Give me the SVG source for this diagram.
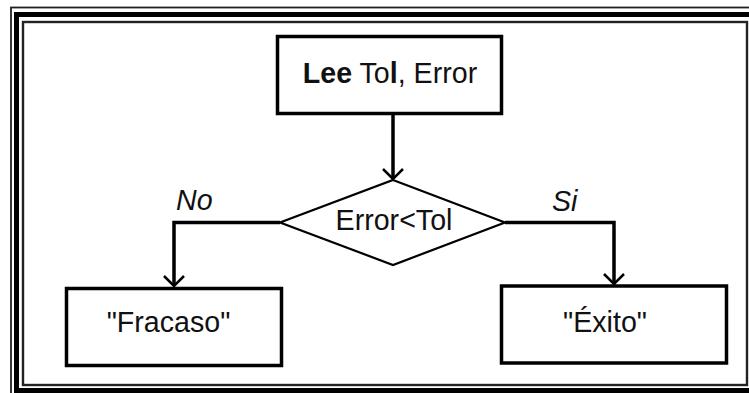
<svg xmlns="http://www.w3.org/2000/svg" width="749" height="393" viewBox="0 0 749 393">
  <style>
    text { font-family: "Liberation Sans", Arial, sans-serif; font-size: 28.6px; fill: #111; }
    .b { font-weight: bold; }
    .i { font-style: italic; }
    .box { fill: #fff; stroke: #000; stroke-width: 3.5; }
    .dec { fill: #fff; stroke: #000; stroke-width: 2.2; }
    .wire { fill: none; stroke: #000; stroke-width: 3.5; stroke-linejoin: miter; }
  </style>
  <defs>
    <!-- open V arrowhead -->
    <marker id="arrow" markerUnits="userSpaceOnUse" markerWidth="24" markerHeight="24" refX="0" refY="0" orient="auto" overflow="visible">
      <path d="M-10,-10 L0,0 L-10,10" fill="none" stroke="#000" stroke-width="2.5"/>
    </marker>
  </defs>

  <rect width="749" height="393" fill="#fff"/>

  <!-- triple-line page frame -->
  <g id="frame" fill="none">
    <rect x="11" y="7.5" width="760" height="400" stroke="#222" stroke-width="1.8"/>
    <rect x="16.5" y="14.5" width="750" height="376" stroke="#000" stroke-width="5"/>
    <rect x="23" y="22" width="724" height="363" stroke="#222" stroke-width="2.4"/>
  </g>

  <!-- connectors -->
  <g id="connectors">
    <path class="wire" d="M393,115 V179" marker-end="url(#arrow)"/>
    <path class="wire" d="M280,222.5 H174 V286" marker-end="url(#arrow)"/>
    <path class="wire" d="M505,222.5 H614 V284" marker-end="url(#arrow)"/>
    <text class="i" x="176" y="210">No</text>
    <text class="i" x="552" y="211">Si</text>
  </g>

  <g id="read">
    <rect class="box" x="277.5" y="36.5" width="224" height="77"/>
    <text x="390" y="83" text-anchor="middle"><tspan class="b">Lee</tspan> To<tspan class="b">l</tspan>, Error</text>
  </g>

  <g id="check">
    <polygon class="dec" points="393,180 505,222.5 393,265 280,222.5"/>
    <text x="394" y="230" text-anchor="middle">Error&lt;Tol</text>
  </g>

  <g id="fail">
    <rect class="box" x="66.5" y="288.5" width="215" height="77"/>
    <text x="168.5" y="332" text-anchor="middle">"Fracaso"</text>
  </g>

  <g id="success">
    <rect class="box" x="501.5" y="286" width="225" height="77"/>
    <text x="605" y="332" text-anchor="middle">"Éxito"</text>
  </g>
</svg>
